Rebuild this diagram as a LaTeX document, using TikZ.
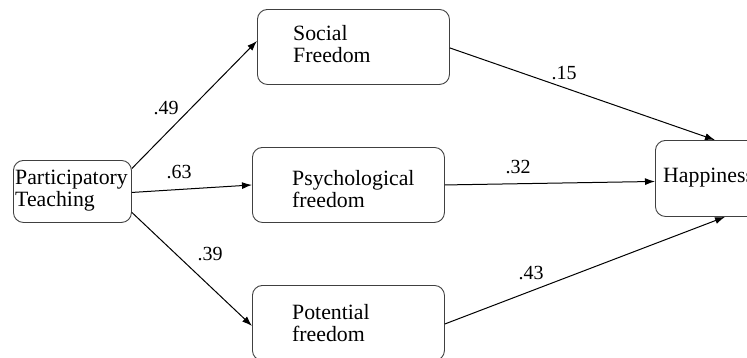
\documentclass[tikz,border=0pt]{standalone}
\usepackage{fontspec}
\setmainfont{Liberation Serif}
\usetikzlibrary{arrows.meta,calc}
\begin{document}
\begin{tikzpicture}[x=1pt,y=-1pt,
  box/.style={draw=black!75,line width=0.9pt,rounded corners=10pt,minimum width=#1,minimum height=75pt,inner sep=0pt,anchor=north west},
  box/.default=192pt,
  txt/.style={anchor=west,align=left,font=\rmfamily\fontsize{21.8}{22}\selectfont,inner sep=0pt},
  coef/.style={font=\rmfamily\fontsize{20}{22}\selectfont,inner sep=0pt},
  arr/.style={line width=1pt,-{Latex[length=10pt,width=7pt]}}]
\useasboundingbox (0,0) rectangle (747,357);
\clip (0,0) rectangle (747,357);
\node[box=118pt,minimum height=62pt] (pt) at (13,160) {};
\node[txt] (ptt) at (15,191) {Participatory\\Teaching};
\node[box] (sf) at (257,9) {};
\node[txt] (sft) at (293,44) {Social\\Freedom};
\node[box] (ps) at (252,147) {};
\node[txt] (pst) at (292,189) {Psychological\\freedom};
\node[box] (po) at (252,285) {};
\node[txt] (pot) at (292,323) {Potential\\freedom};
\node[box=120pt,minimum height=76pt] (h) at (655,140) {};
\node[txt] (ht) at (663,178) {Happiness};
\draw[arr] ([yshift=23pt]pt.east) -- ([yshift=6pt]sf.west);
\draw[arr] ([yshift=-1pt]pt.east) -- (ps.west);
\draw[arr] ([yshift=-21pt]pt.east) -- ([yshift=-3pt]po.west);
\draw[arr] ([yshift=-1pt]sf.east) -- ([xshift=60pt]h.north west);
\draw[arr] (ps.east) -- ([yshift=-3pt]h.west);
\draw[arr] ([yshift=-1pt]po.east) -- ([xshift=70pt]h.south west);
\node[coef] (c1) at (166,108) {.49};
\node[coef] (c2) at (179,172) {.63};
\node[coef] (c3) at (210,254) {.39};
\node[coef] (c4) at (564,73) {.15};
\node[coef] (c5) at (518,167) {.32};
\node[coef] (c6) at (531,273) {.43};
\end{tikzpicture}
\end{document}
